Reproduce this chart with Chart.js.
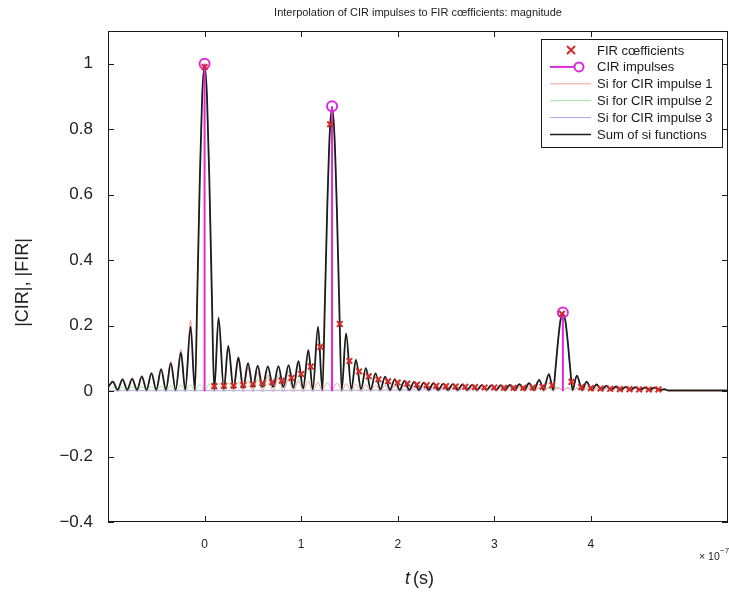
<!DOCTYPE html>
<html>
<head>
<meta charset="utf-8">
<script src="https://cdn.jsdelivr.net/npm/chart.js@4"></script>
<style>
body { margin: 0; background: #fff; }
</style>
</head>
<body>
<canvas id="chart" width="729" height="594"></canvas>
<script>
// time axis in units of 1e-7 s
var xTicks = [0, 1, 2, 3, 4];
var yTicks = [-0.4, -0.2, 0, 0.2, 0.4, 0.6, 0.8, 1];

var cirT = [0, 1.32, 3.71];
var cirMag = [1.0, 0.87, 0.24];

var firT = [0, 0.1, 0.2, 0.3, 0.4, 0.5, 0.6, 0.7, 0.8, 0.9,
    1.0, 1.1, 1.2, 1.3, 1.4, 1.5, 1.6, 1.7, 1.8, 1.9,
    2.0, 2.1, 2.2, 2.3, 2.4, 2.5, 2.6, 2.7, 2.8, 2.9,
    3.0, 3.1, 3.2, 3.3, 3.4, 3.5, 3.6, 3.7, 3.8, 3.9,
    4.0, 4.1, 4.2, 4.3, 4.4, 4.5, 4.6, 4.7];
var firMag = [0.99, 0.015, 0.016, 0.017, 0.019, 0.021, 0.024, 0.027, 0.032, 0.040,
    0.052, 0.075, 0.135, 0.815, 0.205, 0.092, 0.060, 0.045, 0.036, 0.030,
    0.026, 0.023, 0.020, 0.018, 0.016, 0.015, 0.014, 0.013, 0.012, 0.011,
    0.011, 0.010, 0.010, 0.010, 0.011, 0.013, 0.018, 0.236, 0.028, 0.012,
    0.009, 0.008, 0.007, 0.006, 0.006, 0.005, 0.005, 0.005];

var sumT = [-1.00, -0.95, -0.90, -0.85, -0.80, -0.75, -0.70, -0.65, -0.60, -0.55, -0.50, -0.45, -0.40, -0.35, -0.30, -0.245, -0.20, -0.145, -0.10,
    -0.075, -0.05, -0.025, 0, 0.025, 0.05, 0.075, 0.10,
    0.145, 0.20, 0.245, 0.30, 0.35, 0.40, 0.45, 0.50, 0.55, 0.60, 0.655, 0.71, 0.765, 0.815, 0.87, 0.92, 0.972, 1.02, 1.075, 1.12, 1.175, 1.22,
    1.245, 1.27, 1.295, 1.32, 1.345, 1.37, 1.395, 1.42,
    1.465, 1.52, 1.567, 1.62, 1.67, 1.72, 1.77, 1.82, 1.87, 1.92, 1.97, 2.02, 2.07, 2.12, 2.17, 2.22, 2.27, 2.32, 2.37, 2.42, 2.47, 2.52, 2.57, 2.62, 2.67, 2.72, 2.77, 2.82, 2.87, 2.92, 2.97, 3.02,
    3.065, 3.11, 3.16, 3.21, 3.26, 3.31, 3.36, 3.41, 3.465, 3.51, 3.565, 3.61,
    3.635, 3.66, 3.685, 3.71, 3.735, 3.76, 3.785, 3.81,
    3.855, 3.91, 3.955, 4.01, 4.06, 4.11, 4.16, 4.21, 4.26, 4.31, 4.36, 4.41, 4.46, 4.51, 4.56, 4.61, 4.66, 4.71, 4.76, 4.80, 5.00, 5.20, 5.42];

var sumMag = [0.012, 0.028, 0.004, 0.036, 0.004, 0.037, 0.004, 0.044, 0.004, 0.054, 0.004, 0.066, 0.004, 0.085, 0.004, 0.117, 0.004, 0.197, 0.003,
    0.30, 0.637, 0.90, 0.99, 0.90, 0.637, 0.30, 0.004,
    0.224, 0.006, 0.138, 0.008, 0.103, 0.010, 0.085, 0.012, 0.078, 0.012, 0.075, 0.012, 0.076, 0.012, 0.079, 0.010, 0.092, 0.008, 0.125, 0.005, 0.197, 0.004,
    0.26, 0.554, 0.78, 0.865, 0.78, 0.554, 0.26, 0.004,
    0.176, 0.006, 0.095, 0.006, 0.070, 0.005, 0.054, 0.005, 0.044, 0.004, 0.036, 0.004, 0.031, 0.004, 0.028, 0.004, 0.026, 0.004, 0.024, 0.004, 0.022, 0.004, 0.021, 0.004, 0.020, 0.004, 0.019, 0.004, 0.018, 0.004, 0.018, 0.004,
    0.018, 0.004, 0.019, 0.004, 0.021, 0.004, 0.024, 0.004, 0.034, 0.004, 0.052, 0.004,
    0.072, 0.153, 0.216, 0.236, 0.216, 0.153, 0.072, 0.004,
    0.047, 0.004, 0.028, 0.004, 0.020, 0.004, 0.016, 0.004, 0.014, 0.003, 0.013, 0.003, 0.012, 0.003, 0.011, 0.003, 0.011, 0.003, 0.006, 0.002, 0.002, 0.002, 0.002];

var si1Mag = [0.003, 0.034, 0, 0.037, 0, 0.042, 0, 0.049, 0, 0.058, 0, 0.071, 0, 0.091, 0, 0.128, 0, 0.217, 0,
    0.30, 0.637, 0.90, 1.0, 0.90, 0.637, 0.30, 0,
    0.217, 0, 0.128, 0, 0.091, 0, 0.071, 0, 0.058, 0, 0.049, 0, 0.042, 0, 0.037, 0, 0.033, 0, 0.030, 0, 0.027, 0,
    0.018, 0.025, 0.018, 0, 0.016, 0.023, 0.016, 0,
    0.022, 0, 0.020, 0, 0.019, 0, 0.018, 0, 0.017, 0, 0.016, 0, 0.015, 0, 0.0145, 0, 0.014, 0, 0.0135, 0, 0.013, 0, 0.0125, 0, 0.012, 0, 0.0115, 0, 0.011, 0, 0.0107, 0,
    0.0104, 0, 0.010, 0, 0.0097, 0, 0.0095, 0, 0.0092, 0, 0.009, 0,
    0.006, 0.0088, 0.006, 0, 0.006, 0.0086, 0.006, 0,
    0.0083, 0, 0.0081, 0, 0.0079, 0, 0.0077, 0, 0.0075, 0, 0.0073, 0, 0.0071, 0, 0.007, 0, 0.0068, 0, 0.0035, 0, 0, 0, 0];

var si2Mag = [0, 0.0122, 0, 0.0128, 0, 0.0134, 0, 0.014, 0, 0.0148, 0, 0.0156, 0, 0.0166, 0, 0.0177, 0, 0.019, 0,
    0.012, 0.020, 0.012, 0, 0.012, 0.021, 0.012, 0,
    0.0235, 0, 0.026, 0, 0.0285, 0, 0.032, 0, 0.036, 0, 0.042, 0, 0.050, 0, 0.062, 0, 0.080, 0, 0.113, 0, 0.189, 0,
    0.26, 0.554, 0.78, 0.87, 0.78, 0.554, 0.26, 0,
    0.176, 0, 0.100, 0, 0.072, 0, 0.056, 0, 0.045, 0, 0.037, 0, 0.032, 0, 0.028, 0, 0.025, 0, 0.023, 0, 0.021, 0, 0.020, 0, 0.019, 0, 0.018, 0, 0.017, 0, 0.016, 0,
    0.015, 0, 0.0145, 0, 0.014, 0, 0.0135, 0, 0.013, 0, 0.0122, 0,
    0.008, 0.012, 0.008, 0, 0.008, 0.0118, 0.008, 0,
    0.011, 0, 0.0105, 0, 0.010, 0, 0.0098, 0, 0.0095, 0, 0.009, 0, 0.0088, 0, 0.0085, 0, 0.0083, 0, 0.004, 0, 0, 0, 0];

var si3Mag = [0, 0.002, 0, 0.002, 0, 0.002, 0, 0.002, 0, 0.002, 0, 0.0021, 0, 0.0021, 0, 0.0022, 0, 0.0022, 0,
    0.0015, 0.0022, 0.0015, 0, 0.0015, 0.0022, 0.0015, 0,
    0.0022, 0, 0.0023, 0, 0.0023, 0, 0.0024, 0, 0.0024, 0, 0.0025, 0, 0.0026, 0, 0.0026, 0, 0.0027, 0, 0.0028, 0, 0.0029, 0,
    0.002, 0.003, 0.002, 0, 0.002, 0.003, 0.002, 0,
    0.0032, 0, 0.0034, 0, 0.0035, 0, 0.0037, 0, 0.0039, 0, 0.0041, 0, 0.0044, 0, 0.0047, 0, 0.005, 0, 0.0054, 0, 0.0058, 0, 0.0064, 0, 0.007, 0, 0.0078, 0, 0.0088, 0, 0.010, 0,
    0.0117, 0, 0.014, 0, 0.017, 0, 0.022, 0, 0.031, 0, 0.052, 0,
    0.072, 0.153, 0.216, 0.24, 0.216, 0.153, 0.072, 0,
    0.047, 0, 0.031, 0, 0.022, 0, 0.017, 0, 0.014, 0, 0.012, 0, 0.010, 0, 0.009, 0, 0.008, 0, 0.004, 0, 0, 0, 0];

var FONT = '"Liberation Sans", Arial, sans-serif';
var RED = '#d42a2a', MAG = '#dc2adc', SI1 = '#f2a0a0', SI2 = '#9ee3a4', SI3 = '#aaa6ee', SUM = '#1c1c1c';

function pts(ts, ys) {
    return ts.map((t, i) => ({x: t, y: ys[i]}));
}

// stems: base point, top point (with marker), gap
function stems(ts, ys) {
    var out = [];
    ts.forEach((t, i) => {
        out.push({x: t, y: 0});
        out.push({x: t, y: ys[i], top: true});
        out.push({x: t, y: null});
    });
    return out;
}

function fmt(v) {
    if (Math.abs(v) < 1e-9) return '0';
    var s = (Math.round(v * 10) / 10).toString();
    return s.replace('-', '\u2212');
}

var frame = {
    id: 'frame',
    afterDraw(chart) {
        var ctx = chart.ctx, a = chart.chartArea;
        var xs = chart.scales.x, ys = chart.scales.y;
        ctx.save();
        ctx.strokeStyle = '#1a1a1a';
        ctx.lineWidth = 1;
        ctx.strokeRect(a.left + 0.5, a.top + 0.5, a.right - a.left - 1, a.bottom - a.top - 1);
        ctx.beginPath();
        xs.ticks.forEach(t => {
            var px = Math.round(xs.getPixelForValue(t.value)) + 0.5;
            ctx.moveTo(px, a.bottom); ctx.lineTo(px, a.bottom - 6);
            ctx.moveTo(px, a.top); ctx.lineTo(px, a.top + 6);
        });
        ys.ticks.forEach(t => {
            var py = Math.round(ys.getPixelForValue(t.value)) + 0.5;
            ctx.moveTo(a.left, py); ctx.lineTo(a.left + 6, py);
            ctx.moveTo(a.right, py); ctx.lineTo(a.right - 6, py);
        });
        ctx.stroke();

        // texts
        ctx.fillStyle = '#222';
        ctx.textBaseline = 'middle';
        ctx.textAlign = 'center';
        ctx.font = '11px ' + FONT;
        ctx.fillText('Interpolation of CIR impulses to FIR c\u0153fficients: magnitude', (a.left + a.right) / 2, 13);

        ctx.save();
        ctx.translate(23, (a.top + a.bottom) / 2 + 6);
        ctx.rotate(-Math.PI / 2);
        ctx.font = '18px ' + FONT;
        ctx.fillText('|CIR|, |FIR|', 0, 0);
        ctx.restore();

        ctx.font = 'italic 18px ' + FONT;
        ctx.textAlign = 'right';
        ctx.fillText('t', 410, 579);
        ctx.font = '18px ' + FONT;
        ctx.textAlign = 'left';
        ctx.fillText('(s)', 413, 579);

        ctx.font = '10.5px ' + FONT;
        ctx.textAlign = 'left';
        ctx.fillText('\u00d7 10', 699, 557);
        ctx.font = '8px ' + FONT;
        ctx.fillText('\u22127', 720, 551);

        // legend
        var lx = 541, ly = 39, lw = 181, lh = 108;
        ctx.fillStyle = '#fff';
        ctx.fillRect(lx, ly, lw, lh);
        ctx.strokeStyle = '#1a1a1a';
        ctx.strokeRect(lx + 0.5, ly + 0.5, lw, lh);
        ctx.font = '13px ' + FONT;
        ctx.textAlign = 'left';
        chart.data.datasets.forEach((ds, i) => {
            var y = 50 + i * 16.9;
            ctx.strokeStyle = ds.borderColor;
            ctx.lineWidth = ds.legendWidth || 1;
            if (ds.kind === 'fir') {
                ctx.lineWidth = 2;
                ctx.beginPath();
                ctx.moveTo(567, y - 4); ctx.lineTo(575, y + 4);
                ctx.moveTo(575, y - 4); ctx.lineTo(567, y + 4);
                ctx.stroke();
            } else {
                ctx.beginPath();
                ctx.moveTo(550, y); ctx.lineTo(ds.kind === 'cir' ? 575 : 591, y);
                ctx.stroke();
                if (ds.kind === 'cir') {
                    ctx.beginPath();
                    ctx.arc(579, y, 4.5, 0, Math.PI * 2);
                    ctx.stroke();
                }
            }
            ctx.fillStyle = '#1a1a1a';
            ctx.fillText(ds.label, 597, y + 1);
        });
        ctx.restore();
    }
};

var chart = new Chart(document.getElementById('chart'), {
    type: 'line',
    data: {
        datasets: [{
            label: 'FIR c\u0153fficients',
            kind: 'fir',
            data: pts(firT, firMag),
            showLine: false,
            borderColor: RED,
            backgroundColor: RED,
            pointStyle: 'crossRot',
            pointRadius: 4,
            pointBorderWidth: 2,
            order: 0
        }, {
            label: 'CIR impulses',
            kind: 'cir',
            legendWidth: 2,
            data: stems(cirT, cirMag),
            borderColor: MAG,
            backgroundColor: 'rgba(0,0,0,0)',
            borderWidth: 2,
            spanGaps: false,
            pointStyle: 'circle',
            pointRadius: ctx => (ctx.raw && ctx.raw.top) ? 5 : 0,
            pointBorderWidth: 2,
            pointBorderColor: MAG,
            order: 1
        }, {
            label: 'Si for CIR impulse 1',
            data: pts(sumT, si1Mag),
            borderColor: SI1,
            borderWidth: 1,
            pointRadius: 0,
            cubicInterpolationMode: 'monotone',
            order: 3
        }, {
            label: 'Si for CIR impulse 2',
            data: pts(sumT, si2Mag),
            borderColor: SI2,
            borderWidth: 1,
            pointRadius: 0,
            cubicInterpolationMode: 'monotone',
            order: 4
        }, {
            label: 'Si for CIR impulse 3',
            data: pts(sumT, si3Mag),
            borderColor: SI3,
            borderWidth: 1,
            pointRadius: 0,
            cubicInterpolationMode: 'monotone',
            order: 5
        }, {
            label: 'Sum of si functions',
            legendWidth: 1.5,
            data: pts(sumT, sumMag),
            borderColor: SUM,
            borderWidth: 1.8,
            pointRadius: 0,
            cubicInterpolationMode: 'monotone',
            order: 2
        }]
    },
    options: {
        responsive: false,
        animation: false,
        devicePixelRatio: 1,
        layout: {autoPadding: false, padding: {top: 31, right: 1, left: 0, bottom: 0}},
        plugins: {legend: {display: false}, tooltip: {enabled: false}, title: {display: false}},
        scales: {
            x: {
                type: 'linear',
                min: -1.0,
                max: 5.42,
                grid: {display: false, drawTicks: false},
                border: {display: false},
                afterBuildTicks: s => { s.ticks = xTicks.map(v => ({value: v})); },
                afterFit: s => { s.height = 72; },
                ticks: {padding: 15, color: '#222', font: {family: FONT, size: 12}, maxRotation: 0,
                    callback: v => fmt(v)}
            },
            y: {
                type: 'linear',
                min: -0.4,
                max: 1.1,
                grid: {display: false, drawTicks: false},
                border: {display: false},
                afterBuildTicks: s => { s.ticks = yTicks.map(v => ({value: v})); },
                afterFit: s => { s.width = 108; },
                ticks: {padding: 15, color: '#222', font: {family: FONT, size: 17},
                    callback: v => fmt(v)}
            }
        }
    },
    plugins: [frame]
});
</script>
</body>
</html>
